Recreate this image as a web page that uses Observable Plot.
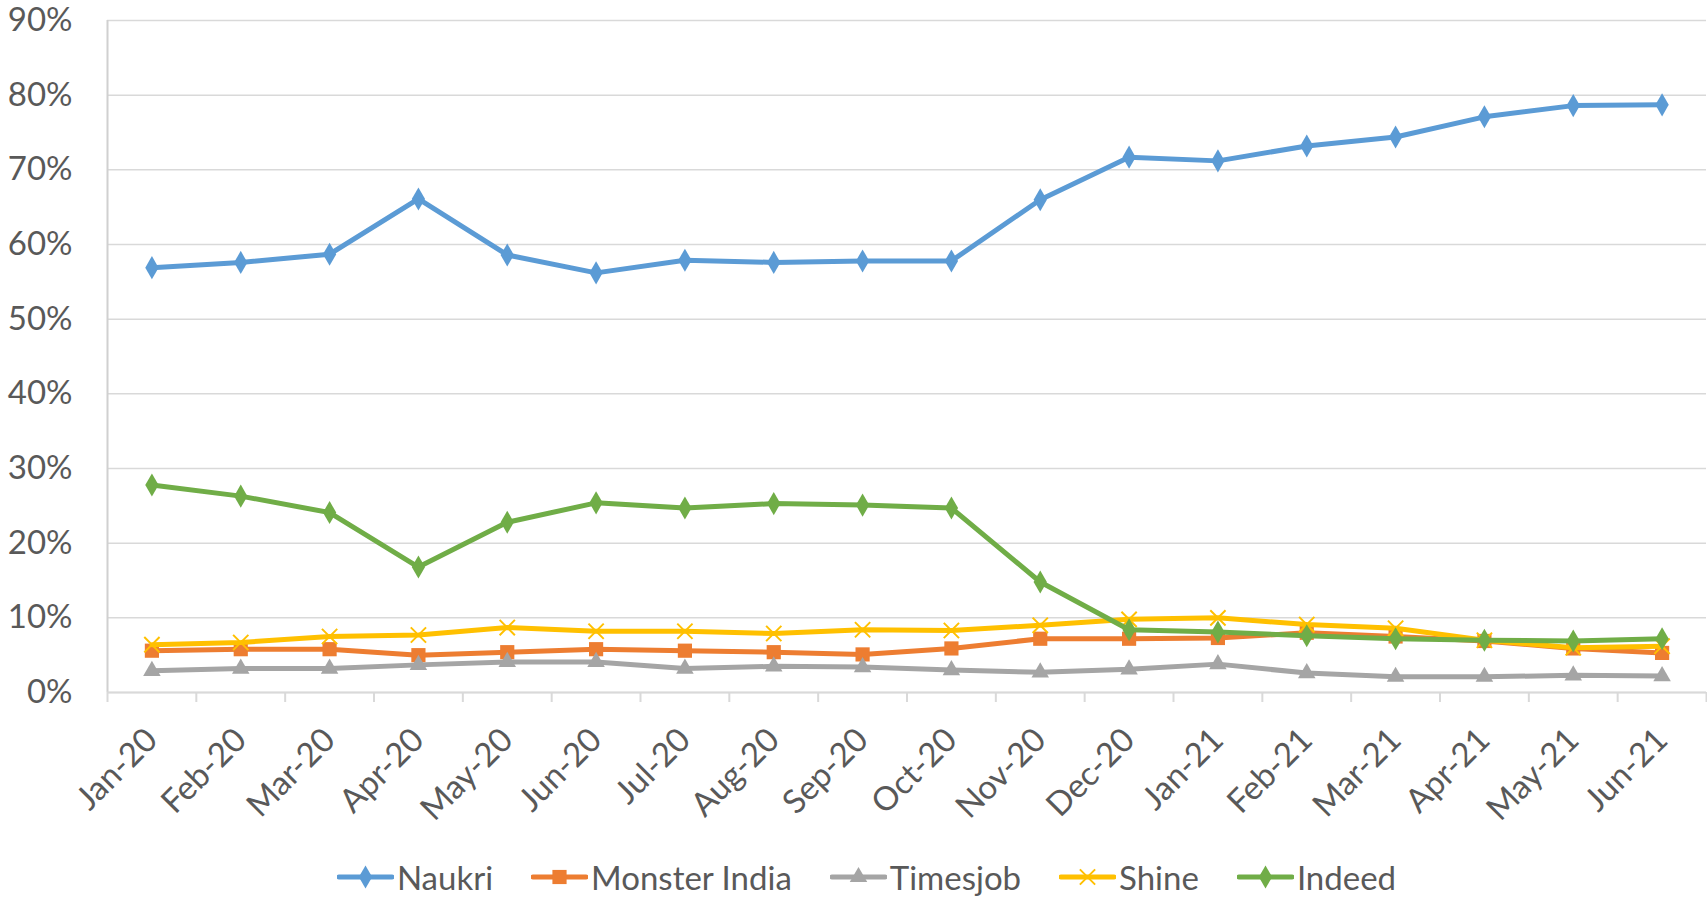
<!DOCTYPE html>
<html>
<head>
<meta charset="utf-8">
<script src="https://cdn.jsdelivr.net/npm/d3@7"></script>
<script src="https://cdn.jsdelivr.net/npm/@observablehq/plot@0.6"></script>
<style>
  html, body { margin: 0; padding: 0; background: #ffffff; }
  body { font-family: Lato, "Open Sans", sans-serif; width: 1707px; height: 899px; overflow: hidden; position: relative; }
  #chart svg { display: block; }
  #legend { position: absolute; left: 26px; top: 850px; width: 1681px; height: 54px;
            display: flex; justify-content: center; align-items: center; gap: 38px;
            color: #595959; font-size: 33px; }
  .item { display: flex; align-items: center; gap: 3px; }
  .item svg { display: block; }
</style>
</head>
<body>
<div id="chart"></div>
<div id="legend"></div>
<script>
// ---- data (values in %) ----
const months = ["Jan-20","Feb-20","Mar-20","Apr-20","May-20","Jun-20","Jul-20","Aug-20","Sep-20",
                "Oct-20","Nov-20","Dec-20","Jan-21","Feb-21","Mar-21","Apr-21","May-21","Jun-21"];
const naukri   = [56.9, 57.6, 58.7, 66.1, 58.6, 56.2, 57.9, 57.6, 57.8, 57.8, 66.0, 71.7, 71.2, 73.2, 74.4, 77.1, 78.6, 78.7];
const monster  = [5.6, 5.8, 5.8, 5.0, 5.4, 5.8, 5.6, 5.4, 5.1, 5.9, 7.2, 7.2, 7.3, 8.0, 7.5, 6.9, 5.9, 5.3];
const timesjob = [2.9, 3.2, 3.2, 3.7, 4.1, 4.1, 3.2, 3.5, 3.4, 3.0, 2.7, 3.1, 3.8, 2.6, 2.1, 2.1, 2.3, 2.2];
const shine    = [6.4, 6.7, 7.5, 7.7, 8.7, 8.2, 8.2, 7.9, 8.4, 8.3, 9.0, 9.8, 10.0, 9.1, 8.6, 7.0, 6.0, 6.2];
const indeed   = [27.8, 26.3, 24.1, 16.8, 22.8, 25.4, 24.7, 25.3, 25.1, 24.7, 14.8, 8.4, 8.1, 7.6, 7.2, 7.0, 6.9, 7.2];
const seriesNames = ["Naukri", "Monster India", "Timesjob", "Shine", "Indeed"];
const yTicks = [0, 10, 20, 30, 40, 50, 60, 70, 80, 90];

// ---- styles ----
const seriesValues = [naukri, monster, timesjob, shine, indeed];
const colors  = ["#5B9BD5", "#ED7D31", "#A5A5A5", "#FFC000", "#70AD47"];
const symbols = ["diamond", "square", "triangle", "times", "diamond"];
const radii   = [7, 8, 6.5, 7, 7];

const idx = months.map((_, i) => i);
const boundaries = d3.range(months.length + 1).map(i => i - 0.5);

const marks = [
  Plot.gridY(yTicks, {stroke: "#d9d9d9", strokeOpacity: 1, strokeWidth: 1.5}),
  Plot.ruleX([-0.5], {stroke: "#d0d0d0", strokeWidth: 2}),
  Plot.ruleY([0], {stroke: "#d9d9d9", strokeWidth: 2}),
  Plot.axisY(yTicks, {tickSize: 0, tickPadding: 35, tickFormat: d => d + "%",
                      fontSize: 33, fill: "#595959", label: null}),
  Plot.axisX(boundaries, {tickSize: 10, tickFormat: () => "", stroke: "#d9d9d9",
                          strokeWidth: 2, strokeOpacity: 1, label: null}),
  Plot.axisX(idx, {tickSize: 0, tickPadding: 42, tickRotate: -45, tickFormat: i => months[i],
                   fontSize: 33, fill: "#595959", label: null})
];

seriesNames.forEach((name, s) => {
  const rows = seriesValues[s].map((v, i) => ({i, v, name}));
  marks.push(Plot.line(rows, {x: "i", y: "v", stroke: colors[s], strokeWidth: 5,
                              strokeLinejoin: "round", strokeLinecap: "round"}));
  if (symbols[s] === "times") {
    marks.push(Plot.dot(rows, {x: "i", y: "v", symbol: "times", stroke: colors[s],
                               strokeWidth: 2, r: radii[s], fill: "none"}));
  } else {
    marks.push(Plot.dot(rows, {x: "i", y: "v", symbol: symbols[s], fill: colors[s],
                               stroke: "none", r: radii[s]}));
  }
});

const chart = Plot.plot({
  width: 1707,
  height: 840,
  marginTop: 20,
  marginBottom: 148,
  marginLeft: 107,
  marginRight: 1,
  style: {fontFamily: "Lato, 'Open Sans', sans-serif", background: "#ffffff", overflow: "visible"},
  x: {type: "linear", domain: [-0.5, months.length - 0.5]},
  y: {type: "linear", domain: [0, 90]},
  marks
});
document.getElementById("chart").appendChild(chart);

// ---- legend ----
const symbolTypes = {diamond: d3.symbolDiamond, square: d3.symbolSquare, triangle: d3.symbolTriangle, times: d3.symbolTimes};
const legend = d3.select("#legend");
seriesNames.forEach((name, s) => {
  const item = legend.append("div").attr("class", "item");
  const svg = item.append("svg").attr("width", 57).attr("height", 24);
  svg.append("line").attr("x1", 2).attr("x2", 55).attr("y1", 12).attr("y2", 12)
     .attr("stroke", colors[s]).attr("stroke-width", 5).attr("stroke-linecap", "round");
  const path = d3.symbol().type(symbolTypes[symbols[s]]).size(Math.PI * radii[s] * radii[s])();
  const p = svg.append("path").attr("d", path).attr("transform", "translate(28.5,12)");
  if (symbols[s] === "times") p.attr("fill", "none").attr("stroke", colors[s]).attr("stroke-width", 2);
  else p.attr("fill", colors[s]);
  item.append("span").text(name);
});
</script>
</body>
</html>
